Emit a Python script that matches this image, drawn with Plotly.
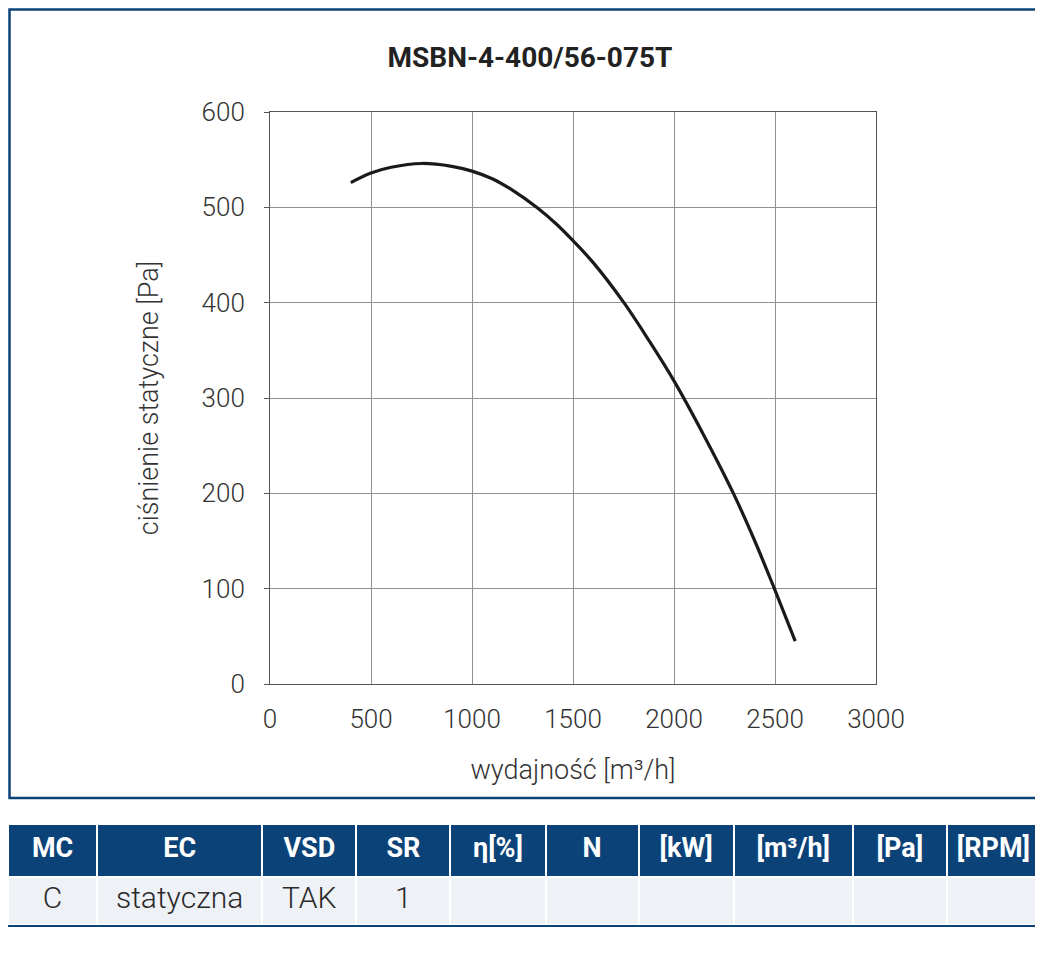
import plotly.graph_objects as go

# fan curve
flow = [400, 500, 600, 750, 900, 1000, 1100, 1200, 1320, 1420, 1500, 1600,
        1752, 1880, 2000, 2150, 2294, 2400, 2497, 2600]
pressure = [526, 536, 542, 546, 543, 538, 530, 518, 500, 482, 465, 442,
            400, 359, 318, 260, 200, 150, 100, 45]

x_ticks = [0, 500, 1000, 1500, 2000, 2500, 3000]
y_ticks = [0, 100, 200, 300, 400, 500, 600]

table_header = ["MC", "EC", "VSD", "SR", "η[%]", "N", "[kW]", "[m³/h]", "[Pa]", "[RPM]"]
table_row = ["C", "statyczna", "TAK", "1", "", "", "", "", "", ""]
col_widths = [89, 165, 94, 94, 95, 93, 95, 119, 94, 93]

W, H = 1043, 957
OFF = 8  # the page body puts the figure 8px in from the corner
BLUE = "#0b4379"
FONT = "Roboto, sans-serif"


# screen pixel -> paper fraction (clamped to the figure)
def px_x(p):
    return min(max((p - OFF) / W, 0), 1)


def px_y(p):
    return min(max(1 - (p - OFF) / H, 0), 1)


fig = go.Figure()

fig.add_trace(go.Scatter(
    x=flow, y=pressure, mode="lines",
    line=dict(color="#1a1a1a", width=3.2, shape="spline", smoothing=1.0),
    hoverinfo="skip", showlegend=False,
))

fig.add_trace(go.Table(
    domain=dict(x=[px_x(8), px_x(1040)], y=[px_y(926), px_y(824)]),
    columnwidth=col_widths,
    header=dict(
        values=[f"<b>{h}</b>" for h in table_header],
        fill_color=BLUE, line=dict(color="white", width=2),
        font=dict(color="white", size=27, family=FONT),
        align="center", height=53,
    ),
    cells=dict(
        values=[[v] for v in table_row],
        fill_color="#eef1f6", line=dict(color="white", width=2),
        font=dict(color="#2a2a2a", size=30, family=FONT, weight=300),
        align="center", height=48,
    ),
))

fig.update_layout(
    width=W, height=H,
    margin=dict(l=0, r=0, t=0, b=0, pad=0, autoexpand=False),
    paper_bgcolor="white", plot_bgcolor="white",
    font=dict(family=FONT, color="#333333", size=22, weight=300),
    showlegend=False,
    title=dict(
        text="<b>MSBN-4-400/56-075T</b>",
        x=px_x(530), xanchor="center", y=px_y(57), yanchor="middle",
        font=dict(size=28, color="#222222", family=FONT),
        automargin=False,
    ),
    shapes=[
        # outer frame round the chart
        dict(type="rect", xref="paper", yref="paper",
             x0=px_x(9.5), x1=px_x(1040), y0=px_y(798), y1=px_y(9.5),
             line=dict(color=BLUE, width=2.5)),
        # blue line under the table
        dict(type="line", xref="paper", yref="paper",
             x0=px_x(8), x1=px_x(1040), y0=px_y(926), y1=px_y(926),
             line=dict(color=BLUE, width=2)),
    ],
)

fig.update_xaxes(
    domain=[px_x(270), px_x(876)], range=[0, 3000], automargin=False,
    tickvals=x_ticks, ticktext=[str(v) for v in x_ticks],
    showgrid=True, gridcolor="#8f8f8f", gridwidth=1,
    showline=True, linecolor="#555555", linewidth=1, mirror=True,
    zeroline=False, ticks="", ticklabelstandoff=12,
    tickfont=dict(size=26, color="#333333", weight=300),
    title=dict(text="wydajność [m³/h]", font=dict(size=27, color="#333333", weight=300), standoff=26),
)
fig.update_yaxes(
    domain=[px_y(684), px_y(112)], range=[0, 600], automargin=False,
    tickvals=y_ticks, ticktext=[str(v) for v in y_ticks],
    showgrid=True, gridcolor="#8f8f8f", gridwidth=1,
    showline=True, linecolor="#555555", linewidth=1, mirror=True,
    zeroline=False, ticks="outside", ticklen=5, tickcolor="#555555",
    ticklabelstandoff=14,
    tickfont=dict(size=26, color="#333333", weight=300),
    title=dict(text="ciśnienie statyczne [Pa]", font=dict(size=27, color="#333333", weight=300), standoff=35),
)

fig.write_html("out.html")
